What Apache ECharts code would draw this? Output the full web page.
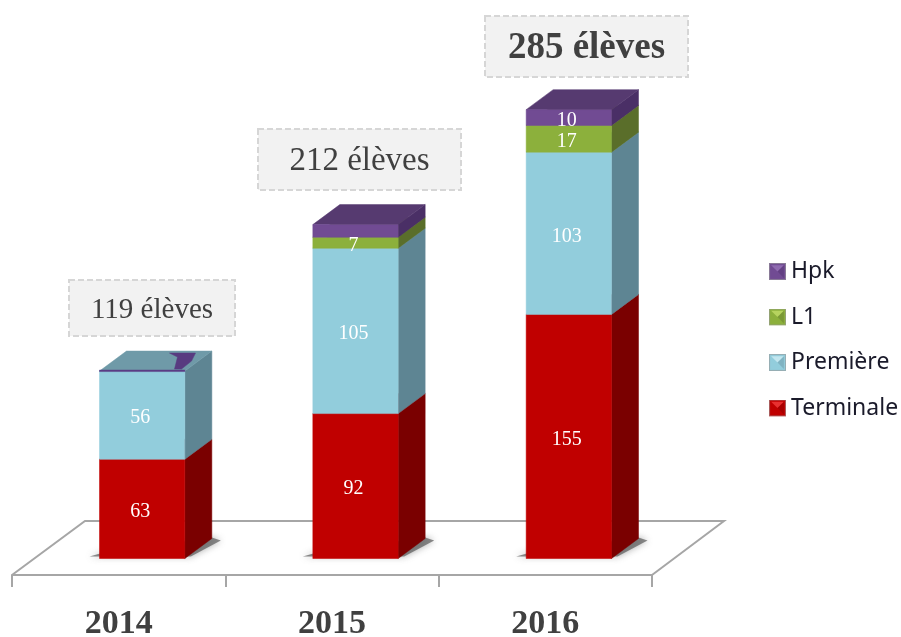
<!DOCTYPE html>
<html>
<head>
<meta charset="utf-8">
<style>
  html, body { margin: 0; background: #fff; }
  #chart { width: 901px; height: 637px; }
</style>
<script src="https://cdn.jsdelivr.net/npm/echarts@6/dist/echarts.min.js"></script>
</head>
<body>
<div id="chart"></div>
<script>
const years = ['2014', '2015', '2016'];
const terminale = [63, 92, 155];
const premiere = [56, 105, 103];
const l1 = [0, 7, 17];
const hpk = [0, 8, 10];
const totals = [119, 212, 285];
const hpkLabelled = [false, false, true];

// colours: front, side, top
const faces = {
  Terminale: ['#c00000', '#7a0000', '#990000'],
  'Première': ['#92cddc', '#5e8593', '#6f9aa8'],
  L1: ['#8cb03c', '#5a6e2a', '#66802e'],
  Hpk: ['#714b93', '#4a2f66', '#563a70']
};

// 3d depth of the bars, and how far they sit behind the front of the floor
const DX = 27;
const DY = -20;
const SHIFT = 23.5;

const chart = echarts.init(document.getElementById('chart'));

function poly(points, fill, z2) {
  return {
    type: 'polygon',
    z2: z2 || 0,
    shape: { points: points },
    style: { fill: fill, stroke: fill, lineWidth: 0.5 }
  };
}

function makeRender(name, values, labelled, extra) {
  const c = faces[name];
  return function (params, api) {
    const i = api.value(0);
    const low = api.coord([i, api.value(1)]);
    const high = api.coord([i, api.value(2)]);
    const w = api.size([1, 0])[0] * 0.4;
    const x0 = low[0] + SHIFT - w / 2;
    const x1 = x0 + w;
    const children = [];
    if (extra) children.push.apply(children, extra(x0, x1, low[1], high[1]));
    if (values[i] > 0) {
      children.push(poly([[x1, low[1]], [x1 + DX, low[1] + DY], [x1 + DX, high[1] + DY], [x1, high[1]]], c[1]));
      children.push(poly([[x0, high[1]], [x1, high[1]], [x1 + DX, high[1] + DY], [x0 + DX, high[1] + DY]], c[2]));
      children.push(poly([[x0, low[1]], [x1, low[1]], [x1, high[1]], [x0, high[1]]], c[0]));
    }
    if (labelled[i]) {
      children.push({
        type: 'text',
        z2: 100,
        style: {
          x: (x0 + x1) / 2 - 2,
          y: (low[1] + high[1]) / 2 + 3,
          text: String(values[i]),
          fill: '#fff',
          font: '20px "Liberation Serif"',
          align: 'center',
          verticalAlign: 'middle'
        }
      });
    }
    return { type: 'group', children: children };
  };
}

// soft shadow on the floor behind each bar
function floorShadow(x0, x1, low) {
  return [{
    type: 'polygon',
    shape: { points: [[x0 - 10, low - 2], [x0 + 4, low - 6], [x1 + DX, low + DY - 1], [x1 + DX + 9, low + DY + 2], [x1 + 6, low - 2]] },
    style: { fill: 'rgba(90,90,90,0.7)', shadowBlur: 7, shadowColor: 'rgba(90,90,90,0.7)' }
  }];
}

// 2014 has no Hpk, the picture still leaves a purple sliver on the roof
function emptyRoof(x0, x1, low, high) {
  if (hpk[0] !== 0 || low !== high) return [];
  return [
    poly([[x0, high - 1], [x1, high - 1], [x1, high + 0.5], [x0, high + 0.5]], '#5b3d85', 10),
    poly([[x0 + 70, high - 18], [x0 + 96, high - 18], [x0 + 92, high - 10], [x0 + 82, high - 2], [x0 + 75, high - 2], [x0 + 78, high - 14]], '#583b80', 10)
  ];
}

function stackData(values, under) {
  return values.map((v, i) => [i, under[i], under[i] + v]);
}

const base0 = years.map(() => 0);
const base1 = terminale;
const base2 = terminale.map((v, i) => v + premiere[i]);
const base3 = base2.map((v, i) => v + l1[i]);

function stackSeries(name, values, under, labelled, extra) {
  return {
    name: name,
    type: 'custom',
    z: 2,
    itemStyle: { color: faces[name][0] },
    encode: { x: 0, y: [1, 2] },
    data: stackData(values, under),
    renderItem: makeRender(name, values, labelled, extra)
  };
}

function bevelIcon(color, light, dark) {
  const svg = '<svg xmlns="http://www.w3.org/2000/svg" width="16" height="16">' +
    '<rect width="16" height="16" fill="' + color + '"/>' +
    '<path d="M2 2H14L8 8Z" fill="' + light + '"/>' +
    '<path d="M14 2V14L8 8Z" fill="' + dark + '" opacity="0.35"/>' +
    '<rect x="0.5" y="0.5" width="15" height="15" fill="none" stroke="#999" stroke-opacity="0.6"/></svg>';
  return 'image://data:image/svg+xml,' + encodeURIComponent(svg);
}

// callout boxes: x, y, width, height, font
const boxes = [
  [69, 280, 166, 56, '29px "Liberation Serif"'],
  [258, 129, 203, 61, '33px "Liberation Serif"'],
  [485, 16, 203, 61, 'bold 37px "Liberation Serif"']
];

const callouts = [];
boxes.forEach((b, i) => {
  callouts.push({
    type: 'rect',
    z: 1,
    shape: { x: b[0], y: b[1], width: b[2], height: b[3] },
    style: { fill: '#f2f2f2', stroke: '#d6d6d6', lineWidth: 2, lineDash: [6, 3] }
  });
  callouts.push({
    type: 'text',
    z: 3,
    style: {
      x: b[0] + b[2] / 2,
      y: b[1] + b[3] / 2 + 2,
      text: totals[i] + ' élèves',
      fill: '#404040',
      font: b[4],
      align: 'center',
      verticalAlign: 'middle'
    }
  });
});

chart.setOption({
  animation: false,
  backgroundColor: '#fff',
  grid: { left: 12, width: 640, top: 86, bottom: 78.5, outerBoundsMode: 'none' },
  xAxis: {
    type: 'category',
    data: years,
    offset: 16.5,
    axisLine: { onZero: false, lineStyle: { color: '#a6a6a6', width: 2 } },
    axisTick: { show: true, length: 12, lineStyle: { color: '#a6a6a6', width: 2 } },
    axisLabel: { margin: 32, color: '#404040', fontFamily: 'Liberation Serif', fontWeight: 'bold', fontSize: 34 }
  },
  yAxis: { type: 'value', min: 0, max: 300, show: false },
  legend: {
    orient: 'vertical',
    left: 764,
    top: 255,
    itemWidth: 17,
    itemHeight: 17,
    itemGap: 22.5,
    selectedMode: false,
    textStyle: { color: '#1a1a2a', fontFamily: 'Noto Sans', fontSize: 23 },
    data: [
      { name: 'Hpk', icon: bevelIcon('#714b93', '#8f6bb0', '#4a2f66') },
      { name: 'L1', icon: bevelIcon('#8cb03c', '#b6d35f', '#5a6e2a') },
      { name: 'Première', icon: bevelIcon('#92cddc', '#c2e6ef', '#5e8593') },
      { name: 'Terminale', icon: bevelIcon('#c00000', '#e83030', '#7a0000') }
    ]
  },
  graphic: [
    {
      type: 'polyline',
      z: 0,
      shape: { points: [[12, 575], [85, 521], [724, 521], [652, 575]] },
      style: { fill: 'none', stroke: '#a6a6a6', lineWidth: 2 }
    }
  ].concat(callouts),
  series: [
    stackSeries('Terminale', terminale, base0, [true, true, true], floorShadow),
    stackSeries('Première', premiere, base1, [true, true, true]),
    stackSeries('L1', l1, base2, [false, true, true]),
    stackSeries('Hpk', hpk, base3, hpkLabelled, emptyRoof)
  ]
});
</script>
</body>
</html>
